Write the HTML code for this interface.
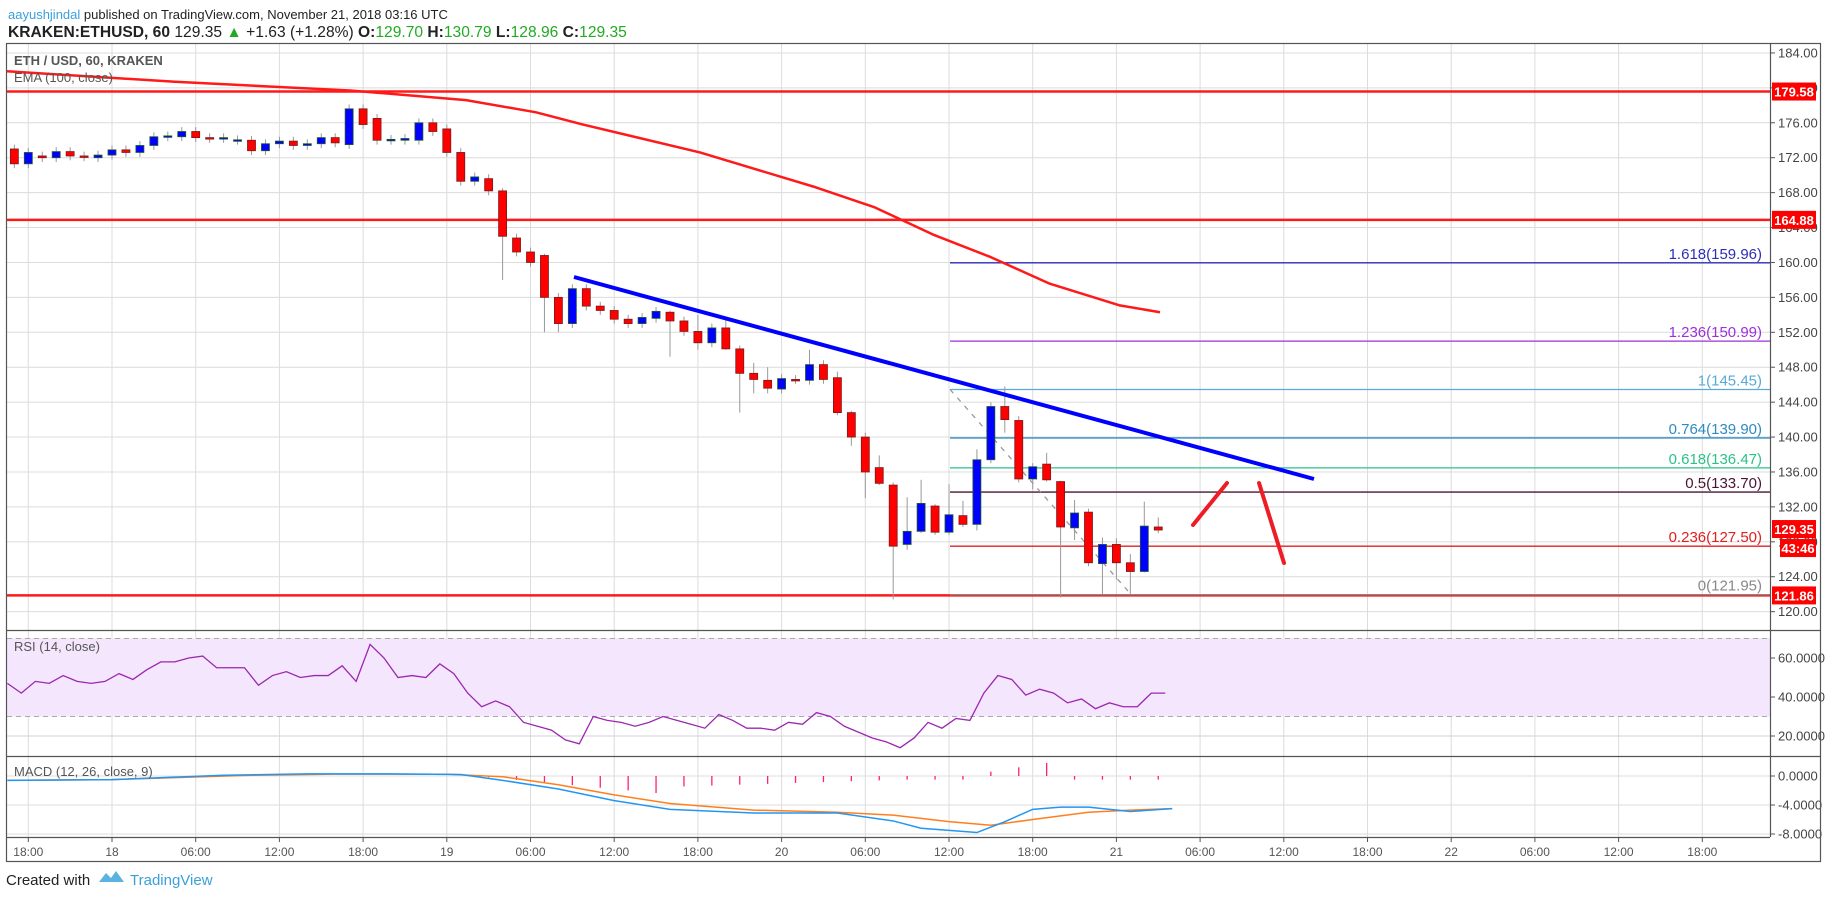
<!DOCTYPE html>
<html><head><meta charset="utf-8">
<style>
html,body{margin:0;padding:0;background:#fff;width:1828px;height:899px;overflow:hidden;font-family:"Liberation Sans",sans-serif;}
svg text{font-family:"Liberation Sans",sans-serif;}
</style></head>
<body>
<svg id="s" width="1828" height="899" xmlns="http://www.w3.org/2000/svg">
<rect width="1828" height="899" fill="#fff"/>
<text x="8" y="19" font-size="13" fill="#222"><tspan fill="#3aa0dc">aayushjindal</tspan> published on TradingView.com, November 21, 2018 03:16 UTC</text>
<text x="8" y="37" font-size="15.6" fill="#222"><tspan font-weight="bold">KRAKEN:ETHUSD, 60</tspan> 129.35 <tspan fill="#22aa22">▲</tspan> +1.63 (+1.28%) <tspan font-weight="bold">O:</tspan><tspan fill="#22aa22">129.70</tspan> <tspan font-weight="bold">H:</tspan><tspan fill="#22aa22">130.79</tspan> <tspan font-weight="bold">L:</tspan><tspan fill="#22aa22">128.96</tspan> <tspan font-weight="bold">C:</tspan><tspan fill="#22aa22">129.35</tspan></text>
<g id="grid"></g>
<rect x="7" y="638" width="1763" height="78.5" fill="#f3e6fd"/>
<g id="g2"></g>
<text x="14" y="65" font-size="13" font-weight="bold" fill="#555">ETH / USD, 60, KRAKEN</text>
<text x="14" y="82" font-size="13" fill="#555">EMA (100, close)</text>
<text x="14" y="651" font-size="13" fill="#555">RSI (14, close)</text>
<text x="14" y="776" font-size="13" fill="#555">MACD (12, 26, close, 9)</text>
<rect x="6.5" y="43.5" width="1814" height="818" fill="none" stroke="#555" stroke-width="1.2"/>
<line x1="1770.5" y1="43" x2="1770.5" y2="837" stroke="#555" stroke-width="1.2"/>
<line x1="6" y1="630.5" x2="1821" y2="630.5" stroke="#555" stroke-width="1.2"/>
<line x1="6" y1="756.5" x2="1821" y2="756.5" stroke="#555" stroke-width="1.2"/>
<line x1="6" y1="837.5" x2="1770" y2="837.5" stroke="#555" stroke-width="1.2"/>
<text x="6" y="885" font-size="15" fill="#222">Created with</text>
<path d="M99 882 l7-9 5 5 5-7 8 11z" fill="#5bb3e0"/>
<text x="130" y="885" font-size="15" fill="#3aa0dc">TradingView</text>
</svg>
<script>
const NS="http://www.w3.org/2000/svg";
const g=document.getElementById('grid'),g2=document.getElementById('g2');
function el(p,t,a,txt){const e=document.createElementNS(NS,t);for(const k in a)e.setAttribute(k,a[k]);if(txt!==undefined)e.textContent=txt;p.appendChild(e);return e;}
const PY=p=>332.3+(152-p)*8.73;
const X=h=>112+h*13.95;
const RY=v=>697-(v-40)*1.95;
const MY=v=>776-v*7.25;
const tl=[[-6,'18:00'],[0,'18'],[6,'06:00'],[12,'12:00'],[18,'18:00'],[24,'19'],[30,'06:00'],[36,'12:00'],[42,'18:00'],[48,'20'],[54,'06:00'],[60,'12:00'],[66,'18:00'],[72,'21'],[78,'06:00'],[84,'12:00'],[90,'18:00'],[96,'22'],[102,'06:00'],[108,'12:00'],[114,'18:00']];
tl.forEach(([h,t])=>{const x=X(h);el(g,'line',{x1:x,y1:44,x2:x,y2:837,stroke:'#dcdcdc','stroke-width':1});el(g,'line',{x1:x,y1:837,x2:x,y2:842,stroke:'#555'});el(g,'text',{x:x,y:856,'font-size':12,fill:'#555','text-anchor':'middle'},t);});
for(let p=120;p<=184;p+=4){const y=PY(p);el(g,'line',{x1:7,y1:y,x2:1770,y2:y,stroke:'#dcdcdc'});el(g,'line',{x1:1770,y1:y,x2:1775,y2:y,stroke:'#555'});el(g,'text',{x:1778,y:y+4.5,'font-size':13,fill:'#444'},p.toFixed(2));}
[20,40,60].forEach(v=>{const y=RY(v);el(g,'line',{x1:7,y1:y,x2:1770,y2:y,stroke:'#d6cde0'});el(g,'line',{x1:1770,y1:y,x2:1775,y2:y,stroke:'#555'});el(g,'text',{x:1778,y:y+4.5,'font-size':13,fill:'#444'},v.toFixed(4));});
[0,-4,-8].forEach(v=>{const y=MY(v);el(g,'line',{x1:7,y1:y,x2:1770,y2:y,stroke:'#dcdcdc'});el(g,'line',{x1:1770,y1:y,x2:1775,y2:y,stroke:'#555'});el(g,'text',{x:1778,y:y+4.5,'font-size':13,fill:'#444'},v.toFixed(4));});
[70,30].forEach(v=>el(g2,'line',{x1:7,y1:RY(v),x2:1770,y2:RY(v),stroke:'#aaa','stroke-dasharray':'5,4'}));
[179.58,164.88,121.86].forEach(p=>{el(g2,'line',{x1:7,y1:PY(p),x2:1770,y2:PY(p),stroke:'#ff1a1a','stroke-width':2.5});});
const fib=[[1.618,159.96,'#2e2eb8'],[1.236,150.99,'#9b30d9'],['1',145.45,'#5aa9d6'],[0.764,139.90,'#2e8bc0'],[0.618,136.47,'#2ec08a'],[0.5,133.70,'#4a1530'],[0.236,127.50,'#e02020'],['0',121.95,'#888']];
fib.forEach(([l,p,c])=>{el(g2,'line',{x1:950,y1:PY(p),x2:1770,y2:PY(p),stroke:c,'stroke-width':1.3});el(g2,'text',{x:1762,y:PY(p)-4,'font-size':15,fill:c,'text-anchor':'end'},l+'('+p.toFixed(2)+')');});
el(g2,'line',{x1:950,y1:PY(145.45),x2:1128,y2:591,stroke:'#999','stroke-width':1.3,'stroke-dasharray':'5,6'});
const ema=[[7,181.9],[175,180.7],[350,179.7],[466,178.6],[536,177.2],[583,175.8],[700,172.6],[816,168.6],[875,166.3],[933,163.2],[991,160.6],[1049,157.6],[1119,155.1],[1160,154.3]];
el(g2,'polyline',{points:ema.map(([x,p])=>x+','+PY(p)).join(' '),fill:'none',stroke:'#ff1a1a','stroke-width':2.5,'stroke-linejoin':'round'});
const oc=[[173,171.3],[171.3,172.6],[172.2,172],[172,172.7],[172.7,172.2],[172.2,172.1],[172,172.3],[172.3,172.9],[172.9,172.6],[172.6,173.4],[173.4,174.4],[174.4,174.5],[174.4,175],[175,174.3],[174.3,174.2],[174.2,174.3],[174,174.05],[174,172.8],[172.8,173.6],[173.6,173.9],[173.9,173.4],[173.4,173.6],[173.6,174.3],[174.3,173.7],[173.5,177.6],[177.6,175.8],[176.5,174],[174,174.1],[174,174.2],[174,176],[176,175],
[175.3,172.6],[172.6,169.3],[169.3,169.8],[169.6,168.2],[168.2,163,168.5,158],[162.8,161.2],[161.2,160],[160.8,156,161,152],[156,153,156.5,152],[153,157],[157,155],[155,154.5],[154.5,153.5],[153.5,153],
[153,153.7],[153.6,154.4],[154.3,153.3,154.5,149.2],[153.3,152.1],[152.1,150.8,154,150],[150.8,152.5],[152.5,150.1,153.5,150],[150.1,147.3,150.5,142.8],[147.3,146.6,148.5,145],[146.5,145.6,148,145],[145.5,146.7],[146.6,146.6],[146.5,148.3,150,146],[148.3,146.6],[146.8,142.8,147.5,142.5],
[142.8,140,143,139],[140,136,140.5,133],[136.5,134.7,137.9,134.5],[134.5,127.5,134.8,121.4],[127.7,129.2,133.1,127.1],[129.2,132.4,135.1,129],[132.1,129.1,132.3,128.8],[129.1,131.1,134.6,128.8],[131,130,132.7,129.7],[130,137.4,138.6,129.3],[137.4,143.5,144,137],[143.5,142,145.8,140.5],[141.9,135.2,142.4,134.8],[135.2,136.6,137,134],[136.9,135.1,138.2,134.9],[134.9,129.7,135,121.6],[129.6,131.3,132.8,128.2],[131.4,125.6,131.8,125.2],[125.5,127.7,128.5,122],[127.7,125.6,128.4,123.7],[125.6,124.6,126.6,122],[124.6,129.8,132.6,124.5],[129.7,129.35,130.8,129]];
oc.forEach((c,i)=>{const h=i-7,x=X(h);let[o,cl,hi,lo]=c;if(hi===undefined){hi=Math.max(o,cl)+0.5;lo=Math.min(o,cl)-0.5;}
el(g2,'line',{x1:x,y1:PY(hi),x2:x,y2:PY(lo),stroke:'#999','stroke-width':1});
const up=cl>o;const t=PY(Math.max(o,cl)),b=PY(Math.min(o,cl));
el(g2,'rect',{x:x-4,y:t,width:8,height:Math.max(b-t,1.5),fill:up?'#0000ff':'#ff0000',stroke:up?'#1e5a2e':'#7a1a1a','stroke-width':0.8});});
el(g2,'line',{x1:574,y1:277,x2:1314,y2:479,stroke:'#0000ff','stroke-width':4});
el(g2,'line',{x1:1193,y1:525,x2:1227,y2:483,stroke:'#ee1c24','stroke-width':4,'stroke-linecap':'round'});
el(g2,'line',{x1:1259,y1:483,x2:1284,y2:563,stroke:'#ee1c24','stroke-width':4,'stroke-linecap':'round'});
const rsi=[47,42,48,47,51,48,47,48,52,49,54,58,58,60,61,55,55,55,46,51,53,50,51,51,56,48,67,60,50,51,50,57,52,42,35,38,35,27,25,23,18,16,30,28,27,25,27,30,28,26,24,31,28,24,24,23,27,26,32,30,25,22,19,17,14,19,27,24,29,28,42,51,49,41,44,42,37,39,34,37,35,35,42,42];
el(g2,'polyline',{points:rsi.map((v,i)=>X(i-7.5)+','+RY(v)).join(' '),fill:'none',stroke:'#9c27b0','stroke-width':1.3});
const mk=[[-7.5,-0.6],[0,-0.5],[8,0.1],[14,0.3],[20,0.3],[25,0.2],[28,-0.6],[32,-1.8],[36,-3.4],[40,-4.6],[46,-5.1],[52,-5.1],[56,-6.2],[58,-7.2],[62,-7.8],[64,-6.3],[66,-4.6],[68,-4.3],[70,-4.3],[73,-4.9],[76,-4.5]];
const sg=[[-7.5,-0.6],[0,-0.5],[10,0.1],[16,0.25],[24,0.25],[28,-0.1],[32,-1.2],[36,-2.6],[40,-3.8],[46,-4.7],[52,-5.0],[56,-5.4],[60,-6.3],[63,-6.8],[66,-6.0],[70,-5.0],[73,-4.7],[76,-4.5]];
for(let h=27;h<=75;h+=2){const m=(h<40)?-(h-26)*0.18:(h<56)?-1.5+(h-40)*0.06:(h>=62&&h<=67)?(h-61)*0.3:-0.5;
el(g2,'line',{x1:X(h),y1:MY(0),x2:X(h),y2:MY(m),stroke:'#ff1e78','stroke-width':1.3});}
el(g2,'polyline',{points:sg.map(([h,v])=>X(h)+','+MY(v)).join(' '),fill:'none',stroke:'#ff7f1e','stroke-width':1.5});
el(g2,'polyline',{points:mk.map(([h,v])=>X(h)+','+MY(v)).join(' '),fill:'none',stroke:'#2196f3','stroke-width':1.5});
function lab(y,t){el(g2,'rect',{x:1772,y:y-9,width:44,height:18,fill:'#ff0000'});el(g2,'text',{x:1794,y:y+5,'font-size':13,'font-weight':'bold',fill:'#fff','text-anchor':'middle'},t);}
lab(PY(179.58),'179.58');lab(PY(164.88),'164.88');lab(PY(121.86),'121.86');lab(PY(129.35)-1,'129.35');
el(g2,'rect',{x:1780,y:PY(129.35)+9,width:36,height:18,fill:'#ff0000'});el(g2,'text',{x:1798,y:PY(129.35)+23,'font-size':13,'font-weight':'bold',fill:'#fff','text-anchor':'middle'},'43:46');
</script>
</body></html>
